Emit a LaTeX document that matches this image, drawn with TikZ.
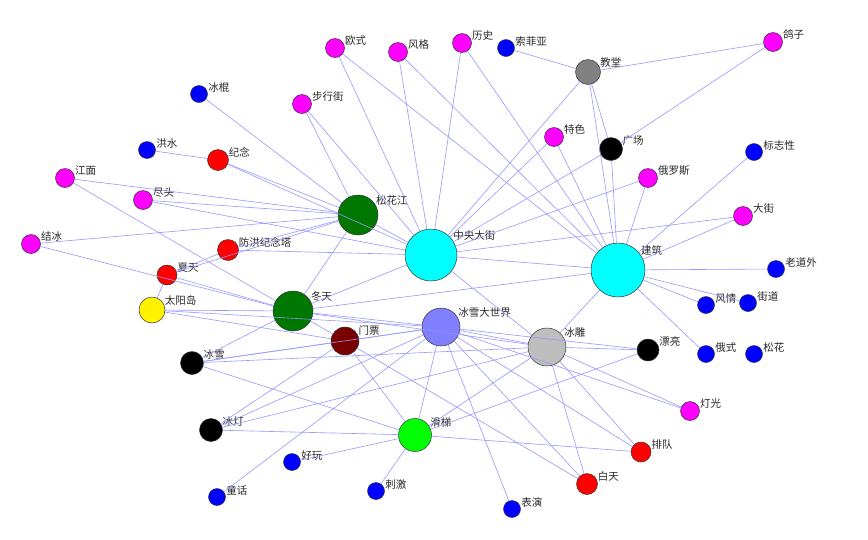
\documentclass[tikz,border=0pt]{standalone}
\usepackage{fontspec}
\setmainfont{Noto Sans CJK SC}
\usetikzlibrary{calc}
\begin{document}
\begin{tikzpicture}[x=1pt,y=-1pt,
  nd/.style={circle,draw=black!80,line width=0.5pt,inner sep=0pt},
  lb/.style={font=\fontsize{10.5}{12}\selectfont,inner sep=0pt,text=black!85},
  ed/.style={draw={rgb,255:red,150;green,150;blue,255},line width=0.6pt}]
\useasboundingbox (0,0) rectangle (868,539);
\newcommand\nd[6]{\node[nd,minimum size=#4pt,fill=#5] (#1) at (#2,#3) {};
  \node[lb,anchor=west] at ($(#1.center)+(0.37*#4+3,-0.37*#4)$) {#6};}
\definecolor{mg}{RGB}{255,0,255}
\definecolor{bl}{RGB}{0,0,255}
\definecolor{rd}{RGB}{255,0,0}
\definecolor{gr}{RGB}{0,120,0}
\definecolor{cy}{RGB}{0,255,255}
\definecolor{lv}{RGB}{128,128,255}
\definecolor{sv}{RGB}{190,190,190}
\definecolor{dr}{RGB}{120,0,0}
\definecolor{lg}{RGB}{0,255,0}
\nd{gezi}{773}{42}{19}{mg}{鸽子}
\nd{oushi}{335}{48}{19}{mg}{欧式}
\nd{fengge}{398}{52}{19}{mg}{风格}
\nd{lishi}{462}{43}{19}{mg}{历史}
\nd{suofeiya}{506}{48}{17}{bl}{索菲亚}
\nd{jiaotang}{588}{72}{25}{gray}{教堂}
\nd{binggun}{199}{94}{17}{bl}{冰棍}
\nd{buxingjie}{302}{104}{19}{mg}{步行街}
\nd{tese}{554}{137}{19}{mg}{特色}
\nd{guangchang}{611}{149}{23}{black}{广场}
\nd{biaozhi}{754}{152}{17}{bl}{标志性}
\nd{hongshui}{147}{150}{17}{bl}{洪水}
\nd{jinian}{218}{160}{21}{rd}{纪念}
\nd{jiangmian}{65}{178}{19}{mg}{江面}
\nd{eluosi}{648}{178}{19}{mg}{俄罗斯}
\nd{jintou}{143}{200}{19}{mg}{尽头}
\nd{shj}{358}{215}{40}{gr}{松花江}
\nd{dajie}{743}{216}{19}{mg}{大街}
\nd{zy}{431}{255}{52}{cy}{中央大街}
\nd{jiebing}{31}{244}{19}{mg}{结冰}
\nd{fanghong}{228}{250}{21}{rd}{防洪纪念塔}
\nd{jianzhu}{618}{270}{54}{cy}{建筑}
\nd{laodaowai}{776}{269}{17}{bl}{老道外}
\nd{xiatian}{167}{275}{20}{rd}{夏天}
\nd{taiyang}{152}{310}{26}{yellow}{太阳岛}
\nd{dongtian}{293}{311}{40}{gr}{冬天}
\nd{fengqing}{706}{305}{17}{bl}{风情}
\nd{jiedao}{748}{303}{17}{bl}{街道}
\nd{bxdsj}{441}{327}{38}{lv}{冰雪大世界}
\nd{menpiao}{345}{341}{28}{dr}{门票}
\nd{bingdiao}{547}{347}{38}{sv}{冰雕}
\nd{piaoliang}{648}{350}{22}{black}{漂亮}
\nd{eshi}{706}{354}{17}{bl}{俄式}
\nd{songhua}{754}{354}{17}{bl}{松花}
\nd{bingxue}{192}{363}{23}{black}{冰雪}
\nd{dengguang}{690}{411}{19}{mg}{灯光}
\nd{bingdeng}{211}{430}{23}{black}{冰灯}
\nd{huati}{415}{435}{33}{lg}{滑梯}
\nd{paidui}{641}{452}{20}{rd}{排队}
\nd{haowan}{292}{462}{17}{bl}{好玩}
\nd{baitian}{587}{484}{21}{rd}{白天}
\nd{ciji}{376}{491}{17}{bl}{刺激}
\nd{tonghua}{217}{497}{17}{bl}{童话}
\nd{biaoyan}{512}{509}{17}{bl}{表演}
\foreach \a/\b in {
 binggun/shj, jinian/shj, jinian/zy, hongshui/jinian, jiangmian/shj, jiangmian/dongtian,
 jintou/shj, jintou/zy, jiebing/shj, jiebing/dongtian, fanghong/shj, fanghong/zy,
 xiatian/fanghong, xiatian/dongtian, xiatian/taiyang, xiatian/shj,
 buxingjie/shj, buxingjie/zy, oushi/zy, oushi/jianzhu, fengge/zy, fengge/jianzhu,
 lishi/zy, lishi/jianzhu, suofeiya/jiaotang, jiaotang/gezi, jiaotang/zy, jiaotang/guangchang,
 jiaotang/jianzhu, gezi/guangchang, guangchang/zy, guangchang/jianzhu, tese/zy, tese/jianzhu,
 eluosi/zy, eluosi/jianzhu, biaozhi/jianzhu, dajie/zy, dajie/jianzhu, laodaowai/jianzhu,
 fengqing/jianzhu, jiedao/jianzhu, eshi/jianzhu, shj/zy, zy/jianzhu, zy/dongtian, zy/bingdiao,
 jianzhu/bingdiao, jianzhu/dongtian, shj/dongtian,
 taiyang/dongtian, taiyang/bxdsj, taiyang/menpiao,
 dongtian/bxdsj, dongtian/bingdiao, dongtian/bingxue, dongtian/menpiao,
 menpiao/bxdsj, menpiao/bingdeng, menpiao/huati, menpiao/baitian, menpiao/bingxue,
 bingxue/bxdsj, bingxue/bingdiao, bingxue/huati,
 bingdeng/bxdsj, bingdeng/bingdiao, bingdeng/huati, tonghua/bxdsj,
 haowan/huati, ciji/huati, huati/bxdsj, huati/piaoliang, huati/bingdiao, huati/paidui,
 bxdsj/bingdiao, bxdsj/piaoliang, bxdsj/dengguang, bxdsj/paidui, bxdsj/baitian, bxdsj/biaoyan,
 bingdiao/piaoliang, bingdiao/dengguang, bingdiao/baitian, bingdiao/paidui}
 {\draw[ed] (\a) -- (\b);}
\end{tikzpicture}
\end{document}
